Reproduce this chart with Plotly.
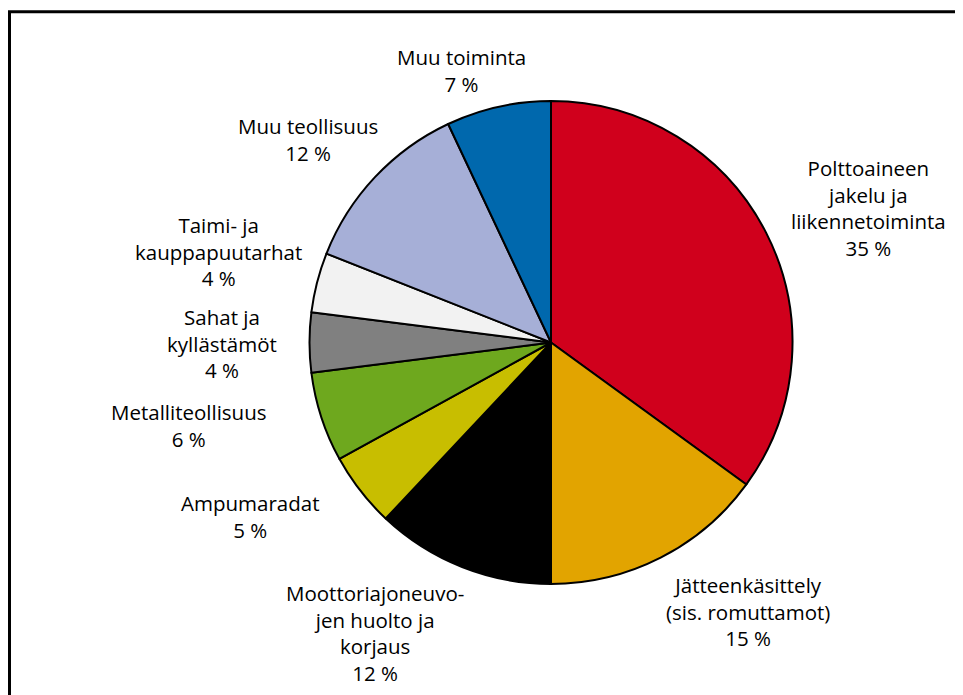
import plotly.graph_objects as go

W, H = 963, 695
OFF = 8  # page offset of the plot inside the browser window

categories = [
    "Polttoaineen jakelu ja liikennetoiminta",
    "Jätteenkäsittely (sis. romuttamot)",
    "Moottoriajoneuvojen huolto ja korjaus",
    "Ampumaradat",
    "Metalliteollisuus",
    "Sahat ja kyllästämöt",
    "Taimi- ja kauppapuutarhat",
    "Muu teollisuus",
    "Muu toiminta",
]
values = [35, 15, 12, 5, 6, 4, 4, 12, 7]
label_lines = [
    ["Polttoaineen", "jakelu ja", "liikennetoiminta"],
    ["Jätteenkäsittely", "(sis. romuttamot)"],
    ["Moottoriajoneuvo-", "jen huolto ja", "korjaus"],
    ["Ampumaradat"],
    ["Metalliteollisuus"],
    ["Sahat ja", "kyllästämöt"],
    ["Taimi- ja", "kauppapuutarhat"],
    ["Muu teollisuus"],
    ["Muu toiminta"],
]
colors = ["#D0001C", "#E2A400", "#000000", "#C8BE00", "#6EA81E",
          "#808080", "#F2F2F2", "#A6AFD7", "#0068AD"]

# label block centres in reference pixels (layout only)
label_pos = [(868, 208), (748, 611), (375, 633), (250, 516), (189, 425),
             (222, 343), (218, 251), (308, 140), (461, 70)]

cx, cy, r = 551 - OFF, 342.5 - OFF, 241.5

fig = go.Figure(go.Pie(
    labels=categories,
    values=values,
    sort=False,
    direction="clockwise",
    rotation=0,
    marker=dict(colors=colors, line=dict(color="#000000", width=2)),
    textinfo="none",
    hoverinfo="label+percent",
    domain=dict(x=[(cx - r) / W, (cx + r) / W], y=[1 - (cy + r) / H, 1 - (cy - r) / H]),
    showlegend=False,
))

total = sum(values)
for lines, v, (px, py) in zip(label_lines, values, label_pos):
    txt = "<br>".join(lines + [f"{round(100 * v / total)} %"])
    fig.add_annotation(
        x=(px - OFF) / W, y=1 - (py - OFF) / H, xref="paper", yref="paper",
        text=txt, showarrow=False, xanchor="center", yanchor="middle",
        font=dict(family="Open Sans, sans-serif", size=20.5, color="#000000"),
    )

fig.add_shape(type="rect", xref="paper", yref="paper",
              x0=(9.5 - OFF) / W, x1=1.05, y0=-0.05, y1=1 - (11.7 - OFF) / H,
              line=dict(color="#000000", width=3))

fig.update_layout(
    width=W, height=H,
    margin=dict(l=0, r=0, t=0, b=0),
    paper_bgcolor="#FFFFFF",
    plot_bgcolor="#FFFFFF",
)

fig.write_html("out.html")
